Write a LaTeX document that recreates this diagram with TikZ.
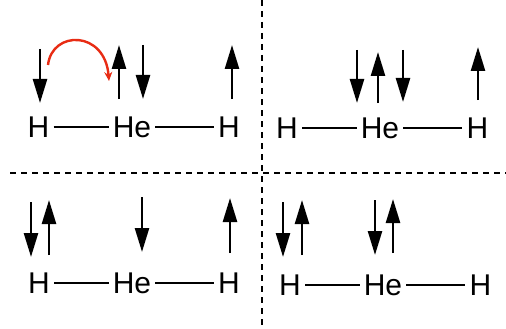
\documentclass[tikz,border=0pt]{standalone}
\usepackage{fontspec}
\setmainfont{Liberation Sans}
\usepackage{tikz}
\usetikzlibrary{arrows.meta}
\definecolor{hopRed}{RGB}{232,44,20}
\tikzset{
  atom/.style={inner xsep=4pt,inner ysep=0pt,text height=21pt,text depth=0pt,
    font=\fontsize{30}{34}\selectfont},
  bond/.style={line width=2pt},
  spin/.style={line width=2.5pt,-{Triangle[length=24pt,width=14pt]}},
  divider/.style={line width=2pt,dash pattern=on 6pt off 5pt}
}

\begin{document}
\begin{tikzpicture}[x=1pt,y=-1pt]
  \useasboundingbox (0,0) rectangle (506,329);
  % quadrant dividers
  \draw[divider] (262,0)--(262,329);
  \draw[divider] (10,173)--(506,173);
  % H--He--H chains
  \node[atom] (hA)  at (38.5,127) {H};
  \node[atom] (heA) at (132,127) {He};
  \node[atom] (hAr) at (229,127) {H};
  \node[atom] (hB)  at (287,128) {H};
  \node[atom] (heB) at (380,128) {He};
  \node[atom] (hBr) at (477.5,128) {H};
  \node[atom] (hC)  at (39,283) {H};
  \node[atom] (heC) at (132,283) {He};
  \node[atom] (hCr) at (229,283) {H};
  \node[atom] (hD)  at (290,285) {H};
  \node[atom] (heD) at (383,285) {He};
  \node[atom] (hDr) at (480.5,285) {H};
  \foreach \l in {A,B,C,D}{
    \draw[bond] (h\l)--(he\l);
    \draw[bond] (he\l)--(h\l r);
  }
  % spins
  \foreach \x/\ya/\yb in {40/49/103,119/99/45,143/45/99,232/99/45,
    357/50/103,378/103/52,403/50/102,478/100/47,
    31/202/257,49/255/200,142/197/252,230/253/198,
    283/202/257,302/255/200,375/200/255,393/253/199}
    \draw[spin] (\x,\ya)--(\x,\yb);
  % electron hop
  \coordinate (hopS) at (48,65);
  \coordinate (hopE) at (109,81);
  \draw[hopRed,line width=2.4pt,-{Stealth[length=9pt,width=8pt]}]
    (hopS) .. controls (52,30) and (105,30) .. (hopE);
\end{tikzpicture}
\end{document}
